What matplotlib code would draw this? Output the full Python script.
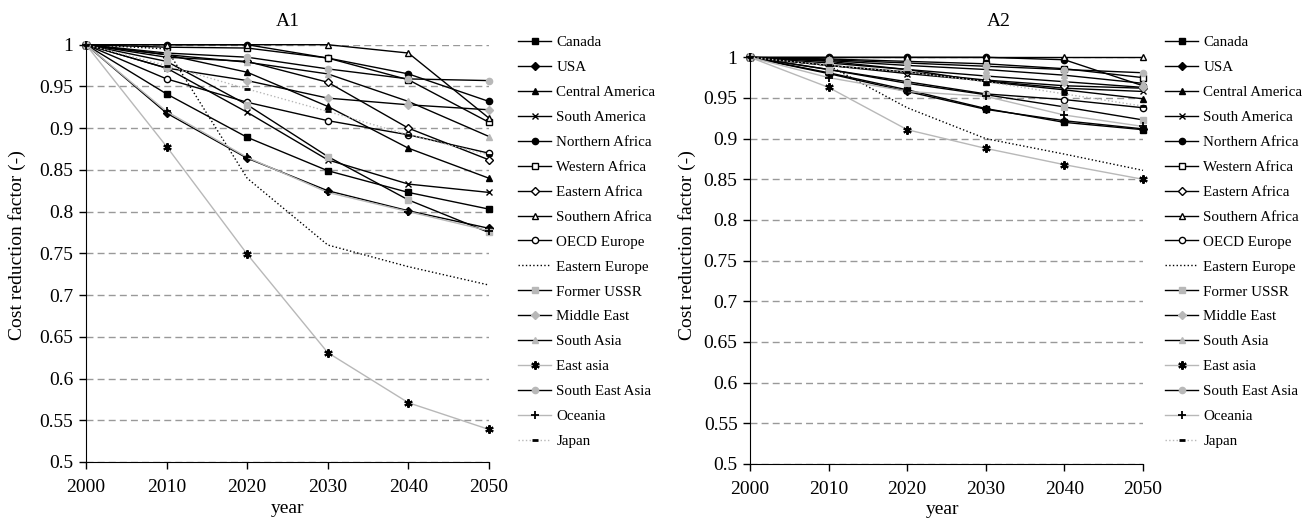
import matplotlib
matplotlib.use("Agg")
import matplotlib.pyplot as plt
from matplotlib.ticker import FuncFormatter

plt.rcParams['font.family'] = ['Liberation Serif', 'DejaVu Serif']

years = [2000, 2010, 2020, 2030, 2040, 2050]
regions = ["Canada", "USA", "Central America", "South America", "Northern Africa",
           "Western Africa", "Eastern Africa", "Southern Africa", "OECD Europe",
           "Eastern Europe", "Former USSR", "Middle East", "South Asia", "East asia",
           "South East Asia", "Oceania", "Japan"]

# cost reduction factor, scenario A1 (one row per region, same order as regions)
a1_values = [
    [1, 0.941, 0.889, 0.849, 0.823, 0.803],   # Canada
    [1, 0.918, 0.864, 0.825, 0.801, 0.780],   # USA
    [1, 0.988, 0.967, 0.926, 0.876, 0.840],   # Central America
    [1, 0.972, 0.919, 0.862, 0.833, 0.823],   # South America
    [1, 1.000, 1.000, 0.984, 0.965, 0.932],   # Northern Africa
    [1, 0.997, 0.996, 0.984, 0.958, 0.907],   # Western Africa
    [1, 0.985, 0.980, 0.955, 0.900, 0.862],   # Eastern Africa
    [1, 1.000, 1.000, 1.000, 0.990, 0.912],   # Southern Africa
    [1, 0.959, 0.931, 0.909, 0.892, 0.870],   # OECD Europe
    [1, 0.995, 0.840, 0.760, 0.734, 0.712],   # Eastern Europe
    [1, 0.980, 0.928, 0.866, 0.814, 0.775],   # Former USSR
    [1, 0.972, 0.957, 0.936, 0.928, 0.922],   # Middle East
    [1, 0.988, 0.979, 0.965, 0.932, 0.890],   # South Asia
    [1, 0.878, 0.749, 0.631, 0.571, 0.539],   # East asia
    [1, 0.990, 0.985, 0.971, 0.959, 0.957],   # South East Asia
    [1, 0.920, 0.865, 0.823, 0.800, 0.777],   # Oceania
    [1, 0.975, 0.947, 0.920, 0.892, 0.868],   # Japan
]

# scenario A2
a2_values = [
    [1, 0.981, 0.960, 0.937, 0.920, 0.911],   # Canada
    [1, 0.980, 0.958, 0.936, 0.922, 0.912],   # USA
    [1, 0.995, 0.985, 0.970, 0.960, 0.949],   # Central America
    [1, 0.990, 0.980, 0.971, 0.962, 0.958],   # South America
    [1, 1.000, 1.000, 1.000, 0.997, 0.965],   # Northern Africa
    [1, 0.998, 0.995, 0.992, 0.986, 0.975],   # Western Africa
    [1, 0.990, 0.982, 0.972, 0.965, 0.962],   # Eastern Africa
    [1, 1.000, 1.000, 1.000, 1.000, 1.000],   # Southern Africa
    [1, 0.985, 0.970, 0.955, 0.948, 0.938],   # OECD Europe
    [1, 0.990, 0.938, 0.900, 0.881, 0.861],   # Eastern Europe
    [1, 0.985, 0.968, 0.954, 0.939, 0.923],   # Former USSR
    [1, 0.993, 0.985, 0.977, 0.970, 0.963],   # Middle East
    [1, 0.996, 0.990, 0.985, 0.978, 0.968],   # South Asia
    [1, 0.963, 0.911, 0.888, 0.868, 0.850],   # East asia
    [1, 0.997, 0.993, 0.989, 0.985, 0.981],   # South East Asia
    [1, 0.975, 0.958, 0.952, 0.929, 0.915],   # Oceania
    [1, 0.990, 0.982, 0.970, 0.955, 0.940],   # Japan
]

K = "black"
G = "#b8b8b8"
ms = 4.5
styles = [
    dict(color=K, marker="s", mfc=K, mec=K),
    dict(color=K, marker="D", mfc=K, mec=K, ms=4),
    dict(color=K, marker="^", mfc=K, mec=K),
    dict(color=K, marker="x", mfc=K, mec=K),
    dict(color=K, marker="o", mfc=K, mec=K),
    dict(color=K, marker="s", mfc="white", mec=K),
    dict(color=K, marker="D", mfc="white", mec=K, ms=4),
    dict(color=K, marker="^", mfc="white", mec=K),
    dict(color=K, marker="o", mfc="white", mec=K),
    dict(color=K, ls=":", marker=None),
    dict(color=K, marker="s", mfc=G, mec=G),
    dict(color=K, marker="D", mfc=G, mec=G, ms=4),
    dict(color=K, marker="^", mfc=G, mec=G),
    dict(color=G, marker=(6, 2, 0), mfc=K, mec=K, ms=6, mew=1.5),
    dict(color=K, marker="o", mfc=G, mec=G),
    dict(color=G, marker="+", mfc=K, mec=K, ms=6, mew=1.3),
    dict(color=G, ls=":", marker="_", mfc=K, mec=K, ms=4, mew=2),
]

fig = plt.figure(figsize=(13.09, 5.21), dpi=100)
W, H = 1309, 521


def draw(ax, values, leg_x):
    handles = []
    for name, vals, st in zip(regions, values, styles):
        kw = dict(ms=ms, lw=1.0, ls="-", mew=1.0)
        kw.update(st)
        h, = ax.plot(years, vals, label=name, clip_on=False, **kw)
        handles.append(h)
    ax.set_xlim(2000, 2050)
    ax.set_ylim(0.5, 1.0)
    ax.set_xticks(years)
    ax.set_yticks([0.5 + 0.05 * i for i in range(11)])
    ax.yaxis.set_major_formatter(FuncFormatter(lambda v, p: "%g" % round(v, 2)))
    ax.yaxis.grid(True, linestyle=(0, (5, 3)), color="#999999", linewidth=1.0)
    ax.set_axisbelow(True)
    for s in ["top", "right"]:
        ax.spines[s].set_visible(False)
    ax.tick_params(direction="out", length=5, labelsize=14, width=1)
    ax.tick_params(axis="x", pad=7)
    ax.tick_params(axis="y", pad=4)
    ax.set_xlabel("year", fontsize=14)
    ax.set_ylabel("Cost reduction factor (-)", fontsize=14)
    ax.legend(handles=handles, loc="upper left",
              bbox_to_anchor=(leg_x / W, 1 - 36 / H), bbox_transform=fig.transFigure,
              frameon=False, fontsize=10.8, borderpad=0, borderaxespad=0,
              handlelength=2.2, handletextpad=0.35, labelspacing=0.76, numpoints=1)


ax1 = fig.add_axes([86 / W, (521 - 462) / H, 403 / W, 417.3 / H])
draw(ax1, a1_values, 518)
ax1.yaxis.set_label_coords(-0.149, 0.52)
ax1.xaxis.set_label_coords(0.5, -0.092)

ax2 = fig.add_axes([750 / W, (521 - 464) / H, 393 / W, 406.7 / H])
draw(ax2, a2_values, 1165)
ax2.yaxis.set_label_coords(-0.137, 0.538)
ax2.xaxis.set_label_coords(0.49, -0.092)

fig.text(288 / W, 1 - 22 / H, "A1", ha="center", va="center", fontsize=14)
fig.text(999 / W, 1 - 22 / H, "A2", ha="center", va="center", fontsize=14)

fig.savefig("out.png", dpi=100)
